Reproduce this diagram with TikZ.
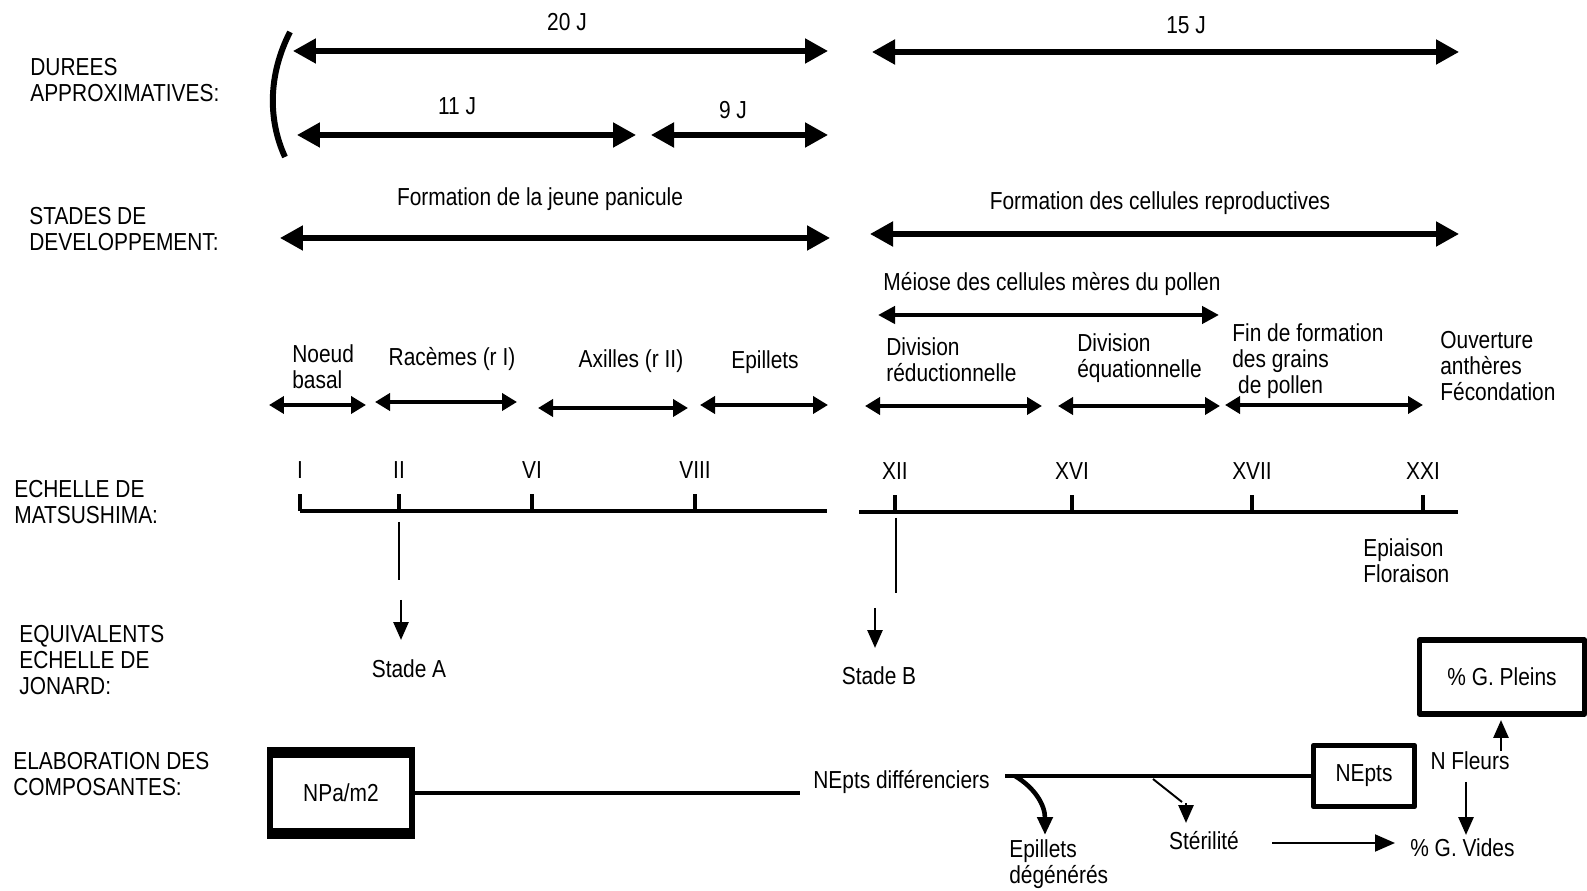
\documentclass[tikz,border=0pt]{standalone}
\usepackage{fontspec}
\setmainfont{Liberation Sans}[FakeStretch=0.85]
\usetikzlibrary{arrows.meta,calc}

\begin{document}
\begin{tikzpicture}[x=0.02cm, y=-0.02cm, line join=round,
    font=\fontsize{14}{14.8}\selectfont,
    txt/.style={inner sep=0pt, align=left},
    duree/.style={line width=2.9pt, {Triangle[length=0.46cm,width=0.48cm]}-{Triangle[length=0.46cm,width=0.48cm]}},
    phase/.style={line width=2.7pt, {Triangle[length=0.3cm,width=0.34cm]}-{Triangle[length=0.3cm,width=0.34cm]}},
    meio/.style={line width=2.6pt, {Triangle[length=0.34cm,width=0.34cm]}-{Triangle[length=0.34cm,width=0.34cm]}},
    echelle/.style={line width=2.8pt},
    graduation/.style={line width=2pt},
    trait/.style={line width=1.1pt},
    fleche/.style={line width=1.6pt, -{Triangle[length=0.36cm,width=0.3cm]}},
    boite/.style={draw, line width=3.2pt, inner sep=0pt}]
    \useasboundingbox (0,0) rectangle (1587,891);
    \fill[white] (0,0) rectangle (1587,891);

    % titres des lignes
    \node[txt, anchor=west] (durees) at (30,80) {DUREES\\APPROXIMATIVES:};
    \node[txt, anchor=west] (stades) at (29,229) {STADES DE\\DEVELOPPEMENT:};
    \node[txt, anchor=west] (matsu) at (14,502) {ECHELLE DE\\MATSUSHIMA:};
    \node[txt, anchor=west] (jonard) at (19,660) {EQUIVALENTS\\ECHELLE DE\\JONARD:};
    \node[txt, anchor=west] (elab) at (13,774) {ELABORATION DES\\COMPOSANTES:};

    % durees approximatives
    \coordinate (d20a) at (293,51);  \coordinate (d20b) at (828,51);
    \coordinate (d15a) at (872,52);  \coordinate (d15b) at (1459,52);
    \coordinate (d11a) at (297,135); \coordinate (d11b) at (636,135);
    \coordinate (d9a) at (651,135);  \coordinate (d9b) at (828,135);
    \draw[line width=3.4pt] (290,32) .. controls (268,75) and (268,120) .. (285,157);
    \draw[duree] (d20a) -- (d20b);
    \draw[duree] (d15a) -- (d15b);
    \draw[duree] (d11a) -- (d11b);
    \draw[duree] (d9a) -- (d9b);
    \node (j20) at (567,22) {20 J};
    \node (j15) at (1186,25) {15 J};
    \node (j11) at (457,106) {11 J};
    \node (j9) at (733,110) {9 J};

    % stades de developpement
    \coordinate (pana) at (280,238); \coordinate (panb) at (830,238);
    \coordinate (cela) at (870,234); \coordinate (celb) at (1459,234);
    \draw[duree] (pana) -- (panb);
    \draw[duree] (cela) -- (celb);
    \node (panicule) at (540,199) {Formation de la jeune panicule};
    \node (cellules) at (1160,203) {Formation des cellules reproductives};

    \coordinate (mea) at (878,315); \coordinate (meb) at (1219,315);
    \draw[meio] (mea) -- (meb);
    \node (meiose) at (1052,284) {Méiose des cellules mères du pollen};

    % phases
    \draw[phase] (269,405) -- (366,405);
    \draw[phase] (375,402) -- (517,402);
    \draw[phase] (538,408) -- (688,408);
    \draw[phase] (700,405) -- (828,405);
    \draw[phase] (865,406) -- (1042,406);
    \draw[phase] (1058,406) -- (1220,406);
    \draw[phase] (1225,405) -- (1423,405);
    \node[txt, anchor=west] (noeud) at (292,367) {Noeud\\basal};
    \node (racemes) at (452,359) {Racèmes (r I)};
    \node (axilles) at (631,361) {Axilles (r II)};
    \node (epillets) at (765,362) {Epillets};
    \node[txt, anchor=west] (divred) at (886,360) {Division\\réductionnelle};
    \node[txt, anchor=west] (diveq) at (1077,358) {Division\\équationnelle};
    \node[txt, anchor=west] (finform) at (1232,361) {Fin de formation\\des grains\\\ de pollen};
    \node[txt, anchor=west] (ouvert) at (1440,366) {Ouverture\\anthères\\Fécondation};

    % echelle de Matsushima
    \draw[echelle] (300,511) -- (827,511);
    \draw[echelle] (859,512) -- (1458,512);
    \foreach \x/\n in {300/I, 399/II, 532/VI, 695/VIII} {
        \draw[graduation] (\x,511) -- (\x,494);
        \node (m\n) at (\x,470) {\n};
    }
    \foreach \x/\n in {895/XII, 1072/XVI, 1252/XVII, 1423/XXI} {
        \draw[graduation] (\x,512) -- (\x,495);
        \node (m\n) at (\x,471) {\n};
    }
    \node[txt, anchor=west] (epiaison) at (1363,561) {Epiaison\\Floraison};

    % equivalents Jonard
    \node (stadeA) at (409,669) {Stade A};
    \node (stadeB) at (879,676) {Stade B};
    \draw[trait] (399,522) -- (399,580);
    \draw[fleche] (401,600) -- (401,640);
    \draw[trait] (896,518) -- (896,593);
    \draw[fleche] (875,608) -- (875,648);

    % composantes
    \node[boite, minimum width=2.84cm, minimum height=1.5cm] (npa) at (341,793) {NPa/m2};
    \draw[line width=6pt] (npa.north west) -- (npa.north east);
    \draw[line width=6pt] (npa.south west) -- (npa.south east);
    \node[txt, anchor=west] (nediff) at (813,782) {NEpts différenciers};
    \coordinate (nedfin) at (800,793);
    \draw[echelle] (npa.east) -- (nedfin);

    \node[boite, minimum width=2.02cm, minimum height=1.22cm] (nepts) at (1364,776) {NEpts};
    \coordinate (br) at (1005,776);
    \draw[echelle] (br) -- (nepts.west);
    \draw[line width=2.6pt, -{Triangle[length=0.36cm,width=0.3cm]}] (1015,776) .. controls (1035,788) and (1045,805) .. (1045,835);
    \node[txt, anchor=west] (epdeg) at (1009,864) {Epillets\\dégénérés};

    \draw[trait] (1153,779) -- (1182,802);
    \draw[fleche] (1186,803) -- (1186,823);
    \node (sterilite) at (1204,841) {Stérilité};

    \node[boite, minimum width=3.3cm, minimum height=1.48cm] (pleins) at (1502,677) {\% G. Pleins};
    \node (nfleurs) at (1470,761) {N Fleurs};
    \node[txt, anchor=west] (vides) at (1410,848) {\% G. Vides};
    \draw[fleche] (1501,751) -- (1501,720);
    \draw[fleche] (1466,782) -- (1466,835);
    \draw[trait, -{Triangle[length=0.4cm,width=0.34cm]}] (1272,843) -- (1395,843);
\end{tikzpicture}
\end{document}
